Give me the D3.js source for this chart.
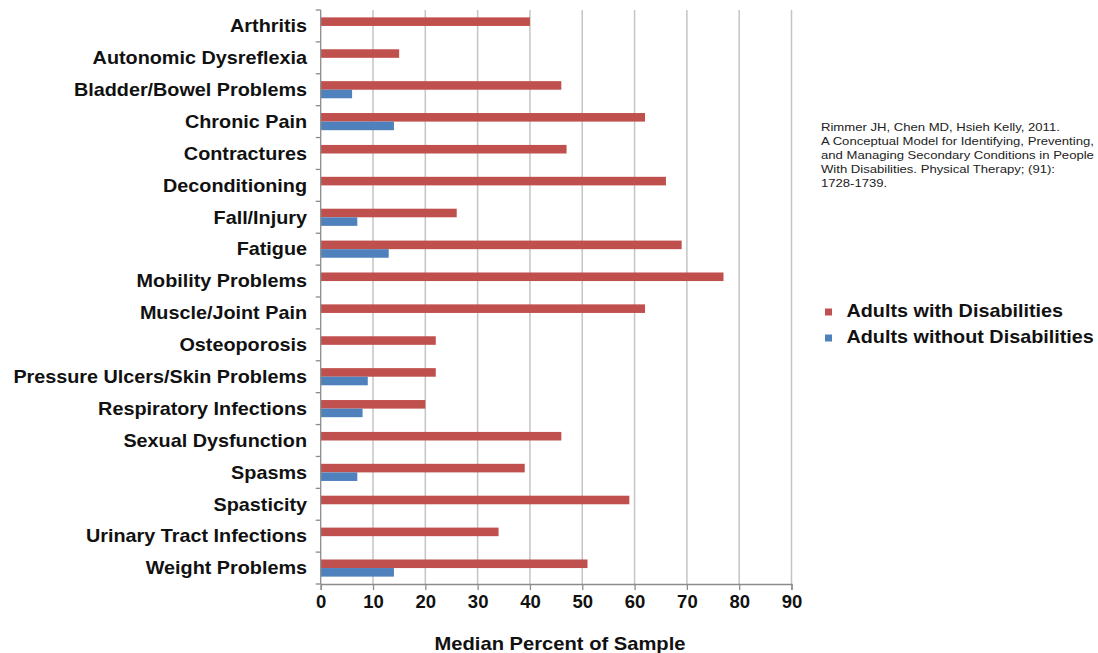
<!DOCTYPE html>
<html>
<head>
<meta charset="utf-8">
<script src="https://cdn.jsdelivr.net/npm/d3@7"></script>
<style>
  html, body { margin: 0; padding: 0; background: #fff; }
  svg { display: block; font-family: "Liberation Sans", Arial, sans-serif; }
</style>
</head>
<body>
<svg id="chart" width="1098" height="653"></svg>
<script>
// Secondary conditions, median percent of sample
const categories = [
  "Arthritis", "Autonomic Dysreflexia", "Bladder/Bowel Problems", "Chronic Pain",
  "Contractures", "Deconditioning", "Fall/Injury", "Fatigue", "Mobility Problems",
  "Muscle/Joint Pain", "Osteoporosis", "Pressure Ulcers/Skin Problems",
  "Respiratory Infections", "Sexual Dysfunction", "Spasms", "Spasticity",
  "Urinary Tract Infections", "Weight Problems"
];
const seriesNames = ["Adults with Disabilities", "Adults without Disabilities"];
const withDisabilities = [40, 15, 46, 62, 47, 66, 26, 69, 77, 62, 22, 22, 20, 46, 39, 59, 34, 51];
const withoutDisabilities = [null, null, 6, 14, null, null, 7, 13, null, null, null, 9, 8, null, 7, null, null, 14];
const xTicks = [0, 10, 20, 30, 40, 50, 60, 70, 80, 90];
const citation = [
  "Rimmer JH, Chen MD, Hsieh Kelly, 2011.",
  "A Conceptual Model for Identifying, Preventing,",
  "and Managing Secondary Conditions in People",
  "With Disabilities. Physical Therapy; (91):",
  "1728-1739."
];
const colors = ["#c0504d", "#4f81bd"];

const svg = d3.select("#chart");
const plot = { left: 320.7, right: 791.5, top: 10, bottom: 584 };

// place a text at (px, py) with a slightly widened face
function placeWide(sel, px, py, k) {
  sel.attr("x", 0).attr("y", 0)
    .attr("transform", (d, i) => {
      const X = typeof px === "function" ? px(d, i) : px;
      const Y = typeof py === "function" ? py(d, i) : py;
      return `translate(${X},${Y}) scale(${k},1)`;
    });
}

const x = d3.scaleLinear().domain([0, 90]).range([plot.left, plot.right]);
const y = d3.scaleBand().domain(categories).range([plot.top, plot.bottom]).padding(0);
const sub = d3.scaleBand().domain(seriesNames).range([0, y.bandwidth()])
  .paddingInner(0).paddingOuter(0.86);

// vertical gridlines
svg.append("g")
  .selectAll("line")
  .data(xTicks.slice(1))
  .join("line")
  .attr("x1", d => x(d)).attr("x2", d => x(d))
  .attr("y1", plot.top).attr("y2", plot.bottom)
  .attr("stroke", "#c4c4c4").attr("stroke-width", 1.5);

// bars
const rows = categories.map((c, i) => ({ c, vals: [withDisabilities[i], withoutDisabilities[i]] }));
const rowG = svg.append("g").selectAll("g").data(rows).join("g")
  .attr("transform", d => `translate(0,${y(d.c)})`);
rowG.selectAll("rect")
  .data(d => d.vals.map((v, k) => ({ v, k })).filter(e => e.v != null))
  .join("rect")
  .attr("x", x(0))
  .attr("y", e => sub(seriesNames[e.k]))
  .attr("width", e => x(e.v) - x(0))
  .attr("height", sub.bandwidth())
  .attr("fill", e => colors[e.k]);

// bottom axis
const xAxis = d3.axisBottom(x).tickValues(xTicks).tickSize(6).tickPadding(5);
const gx = svg.append("g").attr("transform", `translate(0,${plot.bottom})`).call(xAxis);
gx.select(".domain").attr("stroke", "#8c8c8c").attr("stroke-width", 1.3);
gx.selectAll(".tick line").attr("stroke", "#8c8c8c").attr("stroke-width", 1.3);
gx.selectAll(".tick text")
  .attr("font-size", 18.5).attr("font-weight", "bold").attr("fill", "#111")
  .attr("font-family", "'Liberation Sans', Arial, sans-serif");

// left axis: line with ticks on row boundaries
const gy = svg.append("g");
gy.append("line")
  .attr("x1", plot.left).attr("x2", plot.left)
  .attr("y1", plot.top).attr("y2", plot.bottom)
  .attr("stroke", "#8c8c8c").attr("stroke-width", 1.3);
gy.selectAll("line.tk")
  .data(categories.map(c => y(c)).concat([plot.bottom]))
  .join("line").attr("class", "tk")
  .attr("x1", plot.left - 5).attr("x2", plot.left)
  .attr("y1", d => d).attr("y2", d => d)
  .attr("stroke", "#8c8c8c").attr("stroke-width", 1.3);
gy.selectAll("text")
  .data(categories)
  .join("text")
  .attr("text-anchor", "end")
  .attr("font-size", 18).attr("font-weight", "bold").attr("fill", "#111")
  .text(d => d)
  .call(placeWide, 307, d => y(d) + y.bandwidth() / 2 + 6.3, 1.1);

// axis title
svg.append("text")
  .attr("text-anchor", "middle")
  .attr("font-size", 18).attr("font-weight", "bold").attr("fill", "#111")
  .text("Median Percent of Sample")
  .call(placeWide, 560, 650, 1.12);

// legend
const legend = svg.append("g").attr("transform", "translate(825,0)");
seriesNames.forEach((name, i) => {
  const cy = 312 + i * 26;
  legend.append("rect").attr("x", 0).attr("y", cy - 3.5).attr("width", 7).attr("height", 7).attr("fill", colors[i]);
  legend.append("text")
    .attr("font-size", 18).attr("font-weight", "bold").attr("fill", "#111")
    .text(name)
    .call(placeWide, 21.5, cy + 4.5, 1.1);
});

// citation
svg.append("g").selectAll("text")
  .data(citation)
  .join("text")
  .attr("font-size", 11.4).attr("fill", "#222")
  .text(d => d)
  .call(placeWide, 821, (d, i) => 131 + i * 14, 1.15);
</script>
</body>
</html>
